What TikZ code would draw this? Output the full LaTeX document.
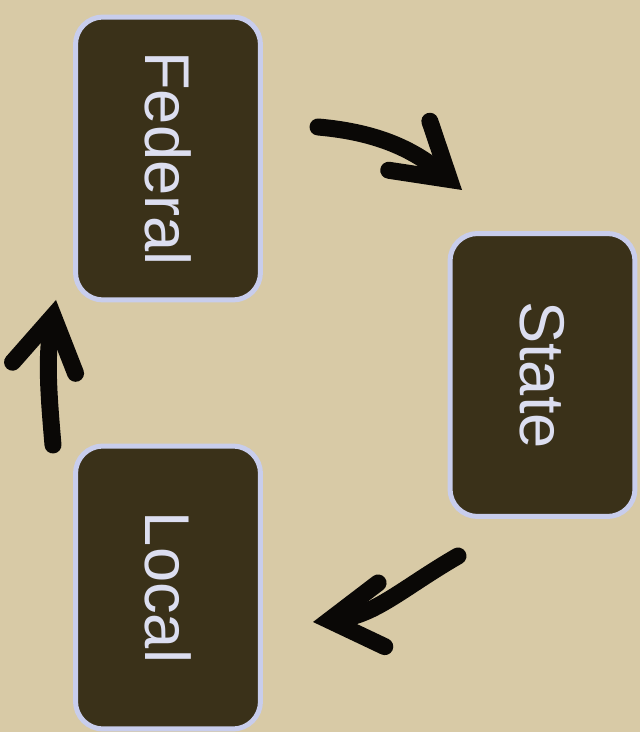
\documentclass[tikz,border=0pt]{standalone}
\usepackage{fontspec}
\setmainfont{Liberation Sans}
\usetikzlibrary{positioning,arrows.meta}
\definecolor{CycPaper}{RGB}{216,202,166}
\definecolor{CycBox}{RGB}{58,49,25}
\definecolor{CycEdge}{RGB}{200,205,236}
\definecolor{CycText}{RGB}{220,222,240}
\definecolor{CycInk}{RGB}{10,8,6}
\tikzset{
  cyc box/.style={
    draw=CycEdge,
    fill=CycBox,
    line width=0.1cm,
    rounded corners=0.55cm,
    minimum width=3.7cm,
    minimum height=5.66cm,
    text=CycText,
    font=\fontsize{36}{40}\selectfont
  },
  cyc arrow/.style={
    draw=CycInk,
    line width=0.34cm,
    line cap=round,
    -{Straight Barb[length=1.05cm, width=1.28cm, line cap=round, line join=miter]}
  }
}

\begin{document}
\begin{tikzpicture}[x=0.02cm, y=0.02cm]
\fill[CycPaper] (0,0) rectangle (640,732);
\useasboundingbox (0,0) rectangle (640,732);
% the three levels
\node[cyc box] (federal) at (168,573.5) {\rotatebox{-90}{Federal}};
\node[cyc box] (state) at (542.5,357) {\rotatebox{-90}{State}};
\node[cyc box] (local) at (168,144.5) {\rotatebox{-90}{Local}};
% arrow ends
\coordinate (fs1) at (318,605);
\coordinate (fs2) at (462,542);
\coordinate (sl1) at (458,176);
\coordinate (sl2) at (313,110);
\coordinate (lf1) at (53,287);
\coordinate (lf2) at (56,432);
\draw[cyc arrow] (fs1) to[out=-5, in=140] (fs2);
\draw[cyc arrow] (sl1) to[out=210, in=6] (sl2);
\draw[cyc arrow] (lf1) to[out=95, in=-100] (lf2);
\end{tikzpicture}
\end{document}
